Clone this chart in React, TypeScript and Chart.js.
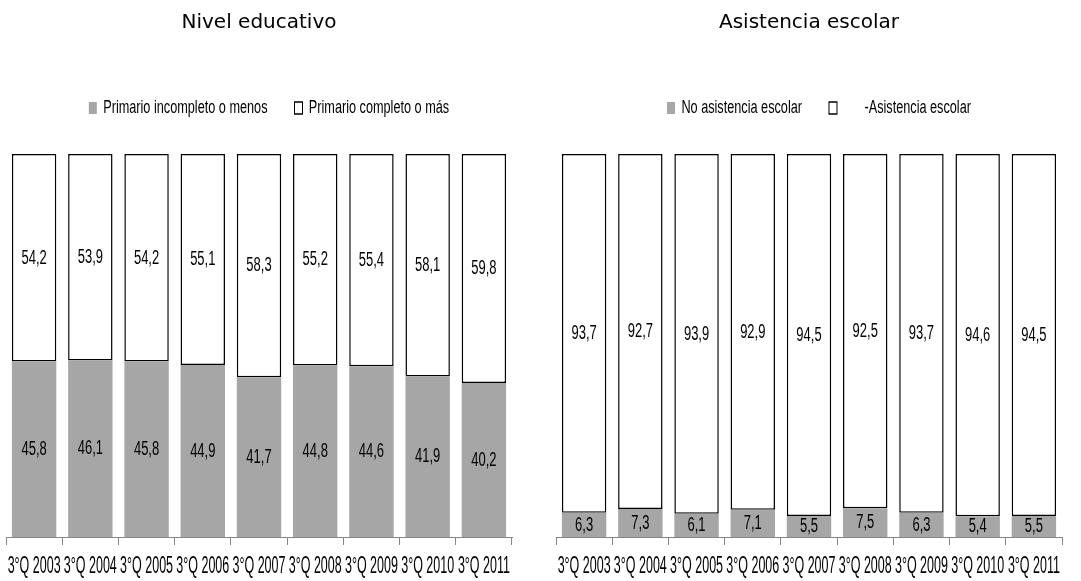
import React, { useEffect, useRef } from "react";
import { Chart, registerables } from "chart.js";

Chart.register(...registerables);

const categories = ["3°Q 2003", "3°Q 2004", "3°Q 2005", "3°Q 2006", "3°Q 2007", "3°Q 2008", "3°Q 2009", "3°Q 2010", "3°Q 2011"];

const primarioIncompleto = [45.8, 46.1, 45.8, 44.9, 41.7, 44.8, 44.6, 41.9, 40.2];
const primarioCompleto = [54.2, 53.9, 54.2, 55.1, 58.3, 55.2, 55.4, 58.1, 59.8];

const noAsistencia = [6.3, 7.3, 6.1, 7.1, 5.5, 7.5, 6.3, 5.4, 5.5];
const asistencia = [93.7, 92.7, 93.9, 92.9, 94.5, 92.5, 93.7, 94.6, 94.5];

const SANS = "'Liberation Sans', Arial, sans-serif";
const GRAY = "#a6a6a6";

const TICK_SIZE = 12.5;
const TICK_PAD = 0;
const TICK_SHIFT = 13.5;
const TICK_LEN = 8;
const TICK_STRETCH = 1.95;
const LEG_SIZE = 12.7;
const LEG_PAD = 27;
const LEG_STRETCH = 1.45;
const LEG_SHIFT = 10;
const VAL_SIZE = 13;
const VAL_STRETCH = 1.6;

function stretchY(ctx: CanvasRenderingContext2D, cy: number, s: number, dx: number, dy: number, fn: () => void) {
  ctx.save();
  ctx.translate(dx, cy + dy);
  ctx.scale(1, s);
  ctx.translate(0, -cy);
  fn();
  ctx.restore();
}

const valueLabels = {
  id: "valueLabels",
  afterDatasetsDraw(chart: any) {
    const ctx = chart.ctx;
    ctx.save();
    ctx.font = `${VAL_SIZE}px ${SANS}`;
    ctx.fillStyle = "#000";
    ctx.textAlign = "center";
    ctx.textBaseline = "middle";
    chart.data.datasets.forEach((ds: any, di: number) => {
      const meta = chart.getDatasetMeta(di);
      meta.data.forEach((el: any, i: number) => {
        const v = ds.data[i];
        const y = (el.y + el.base) / 2;
        stretchY(ctx, y, VAL_STRETCH, 0, 0, () => ctx.fillText(v.toFixed(1).replace(".", ","), el.x, y));
      });
    });
    ctx.restore();
  },
};

const stretchText = {
  id: "stretchText",
  afterLayout(chart: any) {
    const sc = chart.scales.x;
    if (sc && !sc.__patched) {
      const orig = sc.drawLabels.bind(sc);
      sc.drawLabels = function (area: any) {
        const cy = this.top + TICK_LEN + TICK_PAD + (TICK_SIZE * 1.2) / 2;
        stretchY(this.ctx, cy, TICK_STRETCH, 0, TICK_SHIFT, () => orig(area));
      };
      sc.__patched = true;
    }
    const lg = chart.legend;
    if (lg && !lg.__patched) {
      const origL = lg.draw.bind(lg);
      lg.draw = function (area: any) {
        const cy = this.top + LEG_PAD + LEG_SIZE / 2;
        stretchY(this.ctx, cy, LEG_STRETCH, LEG_SHIFT, 0, () => origL(area));
      };
      lg.__patched = true;
    }
  },
};

function Panel(props: { title: string; labelA: string; labelB: string; a: number[]; b: number[]; width: number; padLeft: number; padRight: number }) {
  const ref = useRef<HTMLCanvasElement>(null);
  useEffect(() => {
    if (!ref.current) return;
    const chart = new Chart(ref.current, {
      type: "bar",
      data: {
        labels: categories,
        datasets: [
          {
            label: props.labelA,
            data: props.a,
            backgroundColor: GRAY,
            borderWidth: 0,
            barPercentage: 0.79,
            categoryPercentage: 1,
          },
          {
            label: props.labelB,
            data: props.b,
            backgroundColor: "#ffffff",
            borderColor: "#000000",
            borderWidth: 1.5,
            borderSkipped: false,
            barPercentage: 0.79,
            categoryPercentage: 1,
          },
        ],
      },
      options: {
        animation: false,
        responsive: false,
        maintainAspectRatio: false,
        layout: { padding: { left: props.padLeft, right: props.padRight, top: 0, bottom: 21 } },
        plugins: {
          title: {
            display: true,
            text: props.title,
            color: "#000",
            font: { family: "'DejaVu Sans', Verdana, sans-serif", size: 20, weight: "normal" },
            padding: { top: 11, bottom: 39.65 },
          },
          subtitle: {
            display: true,
            text: " ",
            weight: 1000,
            font: { size: 1 },
            padding: { top: 28.45, bottom: 0 },
          },
          legend: {
            display: true,
            position: "top",
            weight: 1800,
            labels: {
              color: "#000",
              font: { family: SANS, size: LEG_SIZE },
              boxWidth: 8,
              boxHeight: 12 / LEG_STRETCH,
              padding: LEG_PAD,
              generateLabels: (chart: any) =>
                chart.data.datasets.map((ds: any, i: number) => ({
                  text: ds.label,
                  fillStyle: ds.backgroundColor,
                  strokeStyle: i === 0 ? GRAY : "#000",
                  lineWidth: i === 0 ? 0 : 1,
                  hidden: false,
                  datasetIndex: i,
                  fontColor: "#000",
                })),
            },
          },
          tooltip: { enabled: false },
        },
        scales: {
          x: {
            stacked: true,
            offset: true,
            grid: { display: true, drawOnChartArea: false, drawTicks: true, tickLength: TICK_LEN, color: "#868686", offset: true },
            border: { display: true, color: "#868686", width: 1 },
            ticks: { color: "#000", font: { family: SANS, size: TICK_SIZE }, padding: TICK_PAD, maxRotation: 0, minRotation: 0, autoSkip: false },
          },
          y: {
            stacked: true,
            display: false,
            min: 0,
            max: 100,
          },
        },
      },
      plugins: [valueLabels, stretchText],
    });
    return () => chart.destroy();
  }, []);
  return <canvas ref={ref} width={props.width} height={581} style={{ display: "block", width: props.width, height: 581 }} />;
}

export default function App() {
  return (
    <div style={{ position: "absolute", left: 0, top: 0, width: 1081, height: 581, background: "#fff", display: "flex" }}>
      <Panel title="Nivel educativo" labelA="Primario incompleto o menos" labelB="Primario completo o más" a={primarioIncompleto} b={primarioCompleto} width={540} padLeft={6} padRight={28} />
      <Panel title="Asistencia escolar" labelA="No asistencia escolar" labelB="      -Asistencia escolar" a={noAsistencia} b={asistencia} width={541} padLeft={16} padRight={19} />
    </div>
  );
}
